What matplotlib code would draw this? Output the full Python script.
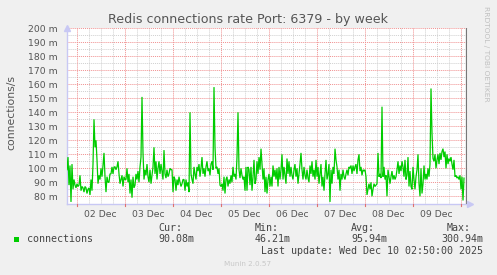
import numpy as np
import matplotlib
matplotlib.use("Agg")
import matplotlib.pyplot as plt

# ---------------- data (connections/s in milli units, 30-min samples) ----------------
start_hour = -4.85          # hours relative to 02 Dec 00:00
step_hours = 0.5
values_a = [99, 108, 88, 102, 76, 103, 85, 92, 88, 86, 89, 87, 88, 95, 84, 87, 86, 83, 87, 86,
            82, 85, 86, 81, 92, 84, 103, 135, 115, 120, 106, 89, 95, 92, 100, 94, 102, 111, 94, 83,
            94, 90, 90, 96, 96, 101, 96, 101, 101, 99, 101, 105, 96, 89, 92, 95, 87, 94, 92, 92,
            100, 90, 96, 82, 92, 79, 94, 86, 88, 96, 92, 98, 90, 101, 108, 151, 111, 92, 99, 95,
            103, 94, 90, 99, 89, 95, 101, 115, 96, 105, 92, 100, 105, 96, 103, 98, 92]
values_b = [113, 96, 93, 99, 94, 96, 100, 99, 99, 83, 94, 92, 84, 92, 88, 94, 90, 87, 89, 92,
            92, 84, 92, 87, 90, 83, 140, 96, 92, 89, 101, 96, 92, 101, 98, 103, 94, 100, 108, 96,
            100, 94, 101, 105, 98, 100, 95, 103, 105, 99, 158, 115, 100, 101, 96, 100, 88, 87, 89, 84,
            94, 82, 92, 94, 87, 92, 89, 95, 90, 101, 94, 96, 92, 108, 140, 99, 93, 100, 95, 92,
            94, 84, 101, 84, 101, 99, 88, 101, 84, 94, 106, 89, 92, 105, 96, 108, 99, 114, 103, 92]
values_c = [100, 83, 94, 82, 92, 96, 87, 94, 87, 102, 94, 99, 92, 100, 87, 101, 92, 99, 110, 92,
            101, 95, 89, 107, 96, 105, 94, 101, 95, 92, 99, 103, 94, 100, 89, 96, 103, 111, 99, 92,
            101, 95, 92, 99, 93, 90, 102, 96, 105, 94, 99, 92, 106, 94, 101, 89, 96, 103, 87, 94,
            84, 96, 106, 92, 96, 103, 76, 99, 89, 101, 96, 114, 106, 101, 92, 99, 84, 96, 92, 99,
            94, 92, 96, 99, 95, 101, 100, 102, 96, 102, 98, 101, 103, 96, 106, 110, 98, 101, 95, 99]
values_d = [98, 99, 94, 81, 85, 89, 85, 90, 80, 85, 89, 87, 88, 89, 111, 94, 96, 93, 144, 94,
            101, 92, 95, 80, 99, 94, 89, 94, 98, 92, 95, 92, 94, 99, 105, 96, 102, 98, 105, 101,
            94, 106, 92, 95, 108, 87, 98, 87, 85, 101, 92, 85, 94, 99, 110, 89, 80, 100, 82, 89,
            102, 92, 96, 92, 100, 94, 103, 157, 125, 107, 105, 110, 100, 106, 110, 103, 111, 106, 112, 114,
            108, 112, 100, 110, 103, 107, 105, 108, 103, 99, 106, 94, 95, 93, 94, 92, 95, 85, 94, 77,
            93]
values = np.array(values_a + values_b + values_c + values_d, dtype=float)
times = start_hour + step_hours * np.arange(len(values))

day_labels = ["02 Dec", "03 Dec", "04 Dec", "05 Dec", "06 Dec", "07 Dec", "08 Dec", "09 Dec"]
y_ticks = [80, 90, 100, 110, 120, 130, 140, 150, 160, 170, 180, 190, 200]
title = "Redis connections rate Port: 6379 - by week"
legend_label = "connections"
stat_names = ["Cur:", "Min:", "Avg:", "Max:"]
stat_values = ["90.08m", "46.21m", "95.94m", "300.94m"]
last_update = "Last update: Wed Dec 10 02:50:00 2025"

# ---------------- figure ----------------
W, H = 497, 275
fig = plt.figure(figsize=(W / 100, H / 100), dpi=100, facecolor="#F0F0F0")

def px(x, y):
    return x / W, 1 - y / H

ax_left, ax_right, ax_top, ax_bottom = 67, 468, 28.3, 204
ax = fig.add_axes([ax_left / W, (H - ax_bottom) / H, (ax_right - ax_left) / W, (ax_bottom - ax_top) / H])
ax.set_facecolor("white")

x_min = start_hour
x_max = x_min + (ax_right - ax_left) / 2.0
y_max = 200
y_min = y_max - (ax_bottom - ax_top) / 1.4
ax.set_xlim(x_min, x_max)
ax.set_ylim(y_min, y_max)

dot = (0, (1, 1))
minor_col = "#D0D0D0"
major_col = "#F09090"

# y grid
for v in np.arange(85, 200, 10):
    ax.axhline(v, color=minor_col, lw=0.7, ls=dot, zorder=1)
for v in y_ticks:
    ax.axhline(v, color=major_col, lw=0.7, ls=dot, zorder=1.5)
# x grid
n_days = len(day_labels)
for h in range(-24, 24 * (n_days + 1), 6):
    if h % 24 != 0 and x_min < h < x_max:
        ax.axvline(h, color=minor_col, lw=0.7, ls=dot, zorder=1)
for d in range(0, n_days + 1):
    ax.axvline(24 * d, color=major_col, lw=0.7, ls=dot, zorder=1.5)
    ax.plot([24 * d, 24 * d], [y_min, y_min - 1.6], color="#E07070", lw=0.8, clip_on=False, zorder=3)

# data
ax.plot(times, values, color="#00CC00", lw=0.9, zorder=4, solid_joinstyle="miter")

# "now" line
now_x = x_min + (465.7 - ax_left) / 2.0
ax.axvline(now_x, color="#777777", lw=0.9, zorder=5)

# spines / arrows
for s in ["top", "right"]:
    ax.spines[s].set_visible(False)
for s in ["left", "bottom"]:
    ax.spines[s].set_color("#C8C8F4")
    ax.spines[s].set_linewidth(1.0)
ax.plot([0], [1.0], marker="^", ms=5, color="#C8C8F4", transform=ax.transAxes, clip_on=False, zorder=6)
ax.plot([1.005], [0], marker=">", ms=5, color="#C8C8F4", transform=ax.transAxes, clip_on=False, zorder=6)

# ticks
ax.set_yticks(y_ticks)
ax.set_yticklabels([f"{v} m" for v in y_ticks])
ax.set_xticks([24 * d + 12 for d in range(n_days)])
ax.set_xticklabels(day_labels)
ax.tick_params(axis="both", length=0, labelsize=6.7, labelcolor="#555555")
ax.tick_params(axis="y", pad=7)
ax.tick_params(axis="x", pad=4)

# texts
fig.text(*px(248.5, 20), title, ha="center", va="center", fontsize=9.1, color="#555555")
fig.text(*px(11, 112), "connections/s", ha="center", va="center", rotation=90, fontsize=7.8, color="#555555")
fig.text(*px(486, 54), "RRDTOOL / TOBI OETIKER", ha="center", va="center", rotation=270,
         fontsize=5.4, color="#C0C0C0")

mono = "DejaVu Sans Mono"
fs = 7.2
fig.patches.append(plt.Rectangle(px(14, 242.3), 5.3 / W, 5.6 / H, transform=fig.transFigure,
                                 facecolor="#00CC00", edgecolor="none"))
fig.text(*px(26.5, 239.5), legend_label, ha="left", va="center", family=mono, fontsize=fs, color="#444444")
name_x = [158.3, 255, 351, 446.7]
val_x = [158.3, 255, 351, 441]
for nx, vx, n, v in zip(name_x, val_x, stat_names, stat_values):
    fig.text(*px(nx, 228), n, ha="left", va="center", family=mono, fontsize=fs, color="#444444")
    fig.text(*px(vx, 239.5), v, ha="left", va="center", family=mono, fontsize=fs, color="#444444")
fig.text(*px(261, 251.5), last_update, ha="left", va="center", family=mono, fontsize=fs, color="#444444")
fig.text(*px(248, 264), "Munin 2.0.57", ha="center", va="center", fontsize=5.2, color="#C8C8C8")

fig.savefig("out.png", dpi=100, facecolor=fig.get_facecolor())
